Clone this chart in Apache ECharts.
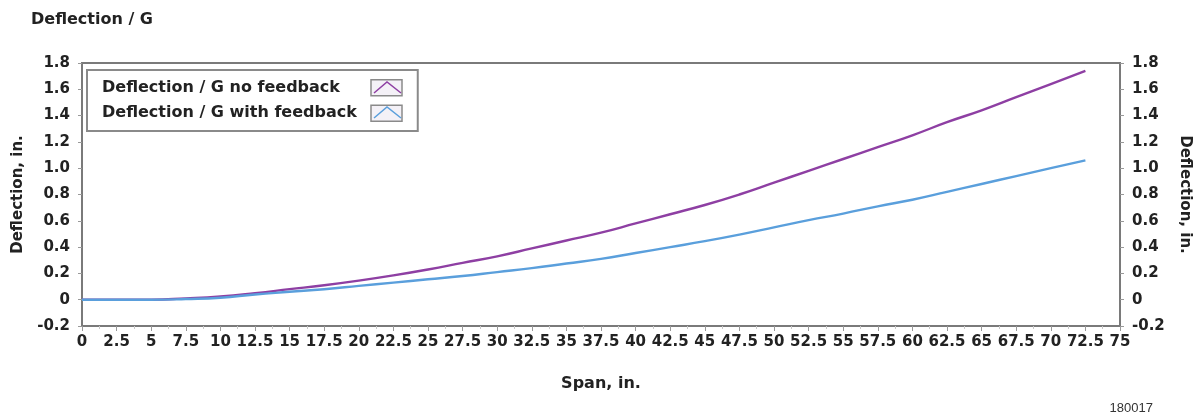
<!DOCTYPE html>
<html>
<head>
<meta charset="utf-8">
<script src="https://cdn.jsdelivr.net/npm/echarts@6/dist/echarts.min.js"></script>
<style>html,body{margin:0;padding:0;background:#fff}#c{width:1200px;height:418px}</style>
</head>
<body>
<div id="c"></div>
<script>
const span = [0,2.5,5,7.5,10,12.5,15,17.5,20,22.5,25,27.5,30,32.5,35,37.5,40,42.5,45,47.5,50,52.5,55,57.5,60,62.5,65,67.5,70,72.5];
const noFeedback = [0,0,0,0.01,0.025,0.05,0.08,0.11,0.145,0.185,0.23,0.28,0.33,0.39,0.45,0.51,0.58,0.65,0.72,0.80,0.89,0.98,1.07,1.16,1.25,1.35,1.44,1.54,1.64,1.74];
const withFeedback = [0,0,0,0.005,0.015,0.04,0.06,0.08,0.105,0.13,0.155,0.18,0.21,0.24,0.275,0.31,0.355,0.40,0.445,0.495,0.55,0.605,0.655,0.71,0.76,0.82,0.88,0.94,1.00,1.06];
const seriesNames = ['Deflection / G no feedback','Deflection / G with feedback'];
const seriesColors = ['#8e3fa3','#5a9fdc'];
const titleText = 'Deflection / G';
const yName = 'Deflection, in.';
const xName = 'Span, in.';
const figId = '180017';

const FONT = 'DejaVu Sans';
const TXT = '#222';
const AX = '#7a7a7a';
const yFmt = v => Math.abs(v) < 1e-9 ? '0' : v.toFixed(1);

const chart = echarts.init(document.getElementById('c'), null, {renderer:'canvas'});
const yAxisBase = (pos, rot, gap) => ({
  type:'value', position:pos, min:-0.2, max:1.8, interval:0.2,
  name:yName, nameLocation:'middle', nameRotate:rot, nameGap:gap,
  nameTextStyle:{fontFamily:FONT, fontWeight:'bold', fontSize:15, color:TXT},
  axisLine:{show:true, onZero:false, lineStyle:{color:AX, width:2}},
  axisTick:{show:true, inside:false, length:4, lineStyle:{color:'#999', width:1}},
  axisLabel:{margin:12, formatter:yFmt, fontFamily:FONT, fontWeight:'bold', fontSize:15, color:TXT},
  splitLine:{show:false}
});
chart.setOption({
  animation:false,
  backgroundColor:'#fff',
  title:{text:titleText, left:26, top:7, textStyle:{fontFamily:FONT, fontWeight:'bold', fontSize:16, color:TXT}},
  grid:{left:82, right:80, top:63, bottom:92, show:true, borderColor:AX, borderWidth:2, backgroundColor:'transparent'},
  legend:{
    orient:'vertical', left:87, top:70, align:'right',
    itemWidth:31, itemHeight:16, itemGap:8, padding:[9,15,9,15],
    borderColor:'#8a8a8a', borderWidth:2, backgroundColor:'#fff',
    icon:'rect',
    itemStyle:{color:'#f4f1f7', borderColor:'#8a8a8a', borderWidth:1.5},
    lineStyle:{opacity:0, width:0},
    formatter:'{a|{name}}',
    textStyle:{fontFamily:FONT, fontWeight:'bold', fontSize:16, color:TXT,
      rich:{a:{width:264, align:'left', fontFamily:FONT, fontWeight:'bold', fontSize:16, color:TXT}}},
    data:seriesNames
  },
  xAxis:{
    type:'value', min:0, max:75, interval:2.5,
    name:xName, nameLocation:'middle', nameGap:50,
    nameTextStyle:{fontFamily:FONT, fontWeight:'bold', fontSize:16, color:TXT},
    axisLine:{show:true, onZero:false, lineStyle:{color:AX, width:2}},
    axisTick:{show:true, length:5, lineStyle:{color:'#999', width:1}},
    minorTick:{show:true, splitNumber:2, length:3, lineStyle:{color:'#c8c8c8'}},
    axisLabel:{margin:9, fontFamily:FONT, fontWeight:'bold', fontSize:15, color:TXT},
    splitLine:{show:false}
  },
  yAxis:[yAxisBase('left', 90, 56), yAxisBase('right', -90, 57)],
  series:[
    {name:seriesNames[0], type:'line', yAxisIndex:0, showSymbol:false, smooth:true,
     data:span.map((x,i)=>[x,noFeedback[i]]), lineStyle:{color:seriesColors[0], width:2.4}, itemStyle:{color:seriesColors[0]}},
    {name:seriesNames[1], type:'line', yAxisIndex:0, showSymbol:false, smooth:true,
     data:span.map((x,i)=>[x,withFeedback[i]]), lineStyle:{color:seriesColors[1], width:2.4}, itemStyle:{color:seriesColors[1]}}
  ],
  graphic:[
    {type:'polyline', z:100, shape:{points:[[374,93],[387,82],[401,93]]}, style:{stroke:seriesColors[0], lineWidth:1.5, fill:null}},
    {type:'polyline', z:100, shape:{points:[[374,118],[387,107],[401,118]]}, style:{stroke:seriesColors[1], lineWidth:1.5, fill:null}},
    {type:'text', right:47, top:402, style:{text:figId, font:'13px "Liberation Sans"', fill:'#333'}}
  ]
});
</script>
</body>
</html>
